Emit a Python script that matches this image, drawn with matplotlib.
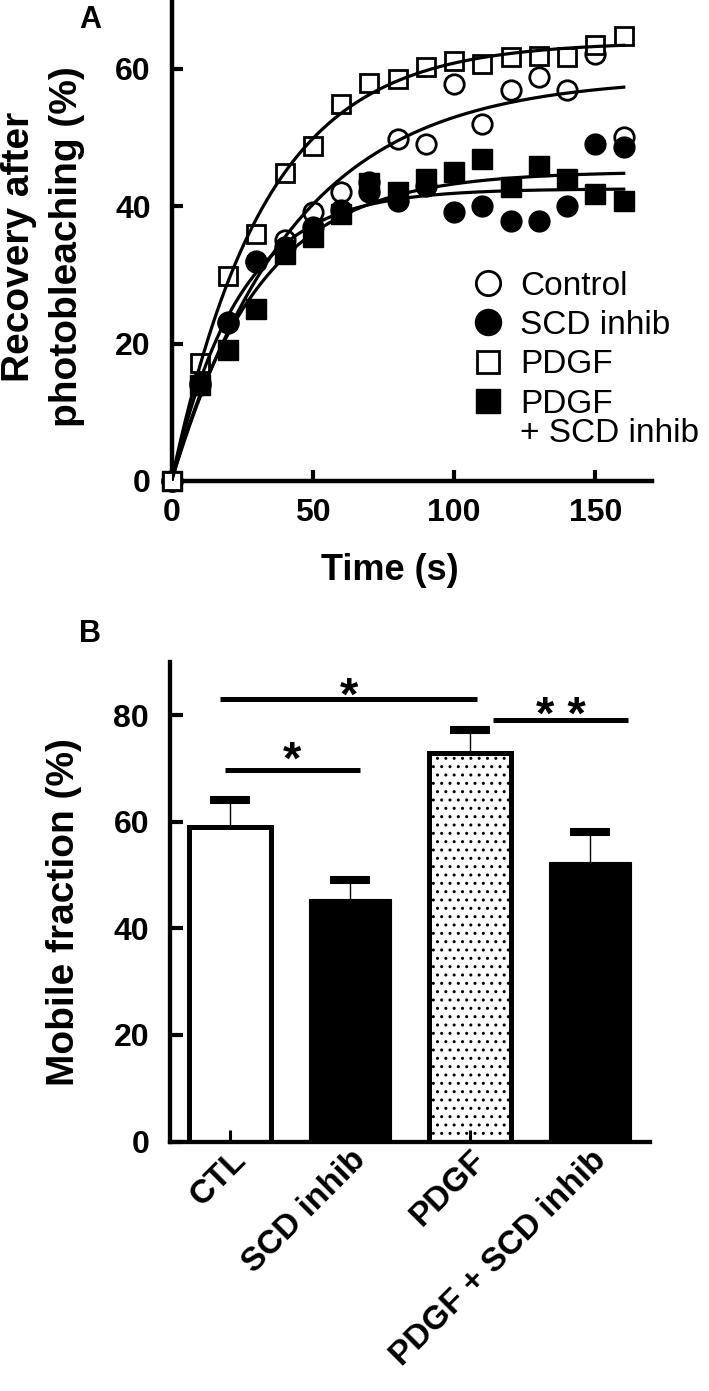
import numpy as np
import matplotlib.pyplot as plt
from matplotlib.lines import Line2D

plt.rcParams['font.family'] = ['Liberation Sans', 'DejaVu Sans']
plt.rcParams['font.weight'] = 'bold'
plt.rcParams['hatch.color'] = 'black'
plt.rcParams['hatch.linewidth'] = 1.0

# panel A: recovery after photobleaching (%)
time_s = [0, 10, 20, 30, 40, 50, 60, 70, 80, 90, 100, 110, 120, 130, 140, 150, 160]
control = [0, 14, 23, 32, 35, 39.1, 42, 43.5, 49.8, 49, 57.8, 51.9, 56.9, 58.8, 56.9, 62.2, 50]
scd_inhib = [0, 14.2, 23.2, 31.9, 34, 37, 39.5, 42, 40.8, 43, 39.1, 40, 37.9, 37.9, 40, 49, 48.6]
pdgf = [0, 17.1, 29.9, 36, 44.8, 48.8, 54.8, 57.9, 58.5, 60.2, 61.1, 60.7, 61.7, 61.9, 61.7, 63.4, 64.8]
pdgf_scd = [0, 14, 19, 25.1, 33.1, 35.5, 38.9, 43.3, 42, 44, 45, 46.9, 42.8, 45.9, 44, 41.8, 40.8]

# panel B: mobile fraction (%)
groups = ["CTL", "SCD inhib", "PDGF", "PDGF + SCD inhib"]
mobile = [59.0, 45.4, 72.8, 52.4]
sem = [5.1, 3.7, 4.3, 5.7]
# significance bars: (x from, x to, bar height, mark, mark baseline)
sig = [(-0.08, 2.06, 83, "*", 81.0), (-0.04, 1.08, 69.7, "*", 69.0),
       (2.19, 3.32, 79, "* *", 77.4)]


def fit_recovery(t, y):
    # one phase association y = A(1 - exp(-k t)), brute force on k
    t = np.asarray(t, float)
    y = np.asarray(y, float)
    best = None
    for k in np.linspace(0.005, 0.2, 4000):
        b = 1 - np.exp(-k * t)
        a = (b @ y) / (b @ b)
        err = ((y - a * b) ** 2).sum()
        if best is None or err < best[0]:
            best = (err, a, k)
    return best[1], best[2]


W, H = 709, 1391
fig = plt.figure(figsize=(W / 100, H / 100), dpi=100)
axA = fig.add_axes([171.5 / W, 1 - 481 / H, 480.5 / W, 481 / H])
axB = fig.add_axes([170 / W, 1 - 1141.5 / H, 480 / W, 479.8 / H])

# ---- panel A
series = [
    (control, 'o', 'white', 14, 2.0),
    (scd_inhib, 'o', 'black', 15, 1.0),
    (pdgf_scd, 's', 'black', 14, 1.0),
    (pdgf, 's', 'white', 13, 2.0),
]
tt = np.linspace(0, 160, 300)
for ys, m, fc, ms, mew in series:
    axA.plot(time_s, ys, ls='none', marker=m, ms=ms, mfc=fc, mec='black',
             mew=mew, clip_on=False, zorder=3)
for ys, m, fc, ms, mew in series:
    a, k = fit_recovery(time_s, ys)
    axA.plot(tt, a * (1 - np.exp(-k * tt)), color='black', lw=2.3, zorder=4)

axA.set_xlim(0, 170)
axA.set_ylim(0, 70)
axA.set_xticks([0, 50, 100, 150])
axA.set_yticks([0, 20, 40, 60])
for s in ['top', 'right']:
    axA.spines[s].set_visible(False)
for s in ['left', 'bottom']:
    axA.spines[s].set_linewidth(3.2)
axA.tick_params(direction='in', length=8, width=3, labelsize=23)
axA.tick_params(axis='x', pad=12)
axA.tick_params(axis='y', pad=15)

handles = [Line2D([], [], ls='none', marker=m, ms=ms * 1.25, mfc=fc, mec='black', mew=mew)
           for _, m, fc, ms, mew in [series[0], series[1], series[3], series[2]]]
labels = ['Control', 'SCD inhib', 'PDGF', ' ']
leg = axA.legend(handles, labels, loc='upper left', bbox_to_anchor=(0.631, 0.437),
                 frameon=False, prop={'size': 24, 'weight': 'normal'},
                 handlelength=0.8, handletextpad=0.56, labelspacing=0.25,
                 borderpad=0, borderaxespad=0)
# two-line label of the last entry, marker lined up with its first line
axA.annotate('PDGF\n+ SCD inhib', xy=(0, 1), xycoords=leg.get_texts()[3],
             xytext=(0, 0), textcoords='offset points', ha='left', va='top',
             fontsize=24, fontweight='normal', linespacing=0.92, zorder=6)

# ---- panel B
x = np.arange(len(groups))
bars = axB.bar(x, mobile, width=0.68, color=['white', 'black', 'white', 'black'],
               edgecolor='black', linewidth=[3.6, 0.8, 3.6, 0.8], zorder=1)
bars[2].set_hatch('..')
eb = axB.errorbar(x, mobile, yerr=[np.zeros(len(sem)), sem], fmt='none', ecolor='black',
                  elinewidth=1, capsize=14.4, capthick=5.8, zorder=2)
for cap in eb[1]:
    if np.allclose(cap.get_ydata(), mobile):
        cap.set_visible(False)

for x0, x1, yv, mark, ym in sig:
    axB.plot([x0, x1], [yv, yv], color='black', lw=3.6, solid_capstyle='butt')
    axB.text((x0 + x1) / 2, ym, mark, ha='center', va='baseline', fontsize=34)

axB.set_xlim(-0.5, 3.5)
axB.set_ylim(0, 90)
axB.set_yticks([0, 20, 40, 60, 80])
axB.set_xticks(x)
axB.set_xticklabels(groups, rotation=45, ha='right', va='top', rotation_mode='anchor',
                    fontsize=24)
for s in ['top', 'right']:
    axB.spines[s].set_visible(False)
for s in ['left', 'bottom']:
    axB.spines[s].set_linewidth(3.1)
axB.tick_params(axis='y', direction='in', length=9, width=3, labelsize=23, pad=15)
axB.tick_params(axis='x', direction='in', length=8.6, width=2.2, pad=2)

# ---- labels
fig.text(43 / W, 1 - 247 / H, "Recovery after\nphotobleaching (%)", rotation=90,
         ha='center', va='center', fontsize=28, linespacing=1.45)
fig.text(390 / W, 1 - 580 / H, "Time (s)", ha='center', va='baseline', fontsize=26)
fig.text(64 / W, 1 - 912 / H, "Mobile fraction (%)", rotation=90,
         ha='center', va='center', fontsize=28)
fig.text(90 / W, 1 - 28 / H, "A", ha='center', va='baseline', fontsize=22)
fig.text(90 / W, 1 - 642 / H, "B", ha='center', va='baseline', fontsize=22)

fig.savefig('out.png', dpi=100)
